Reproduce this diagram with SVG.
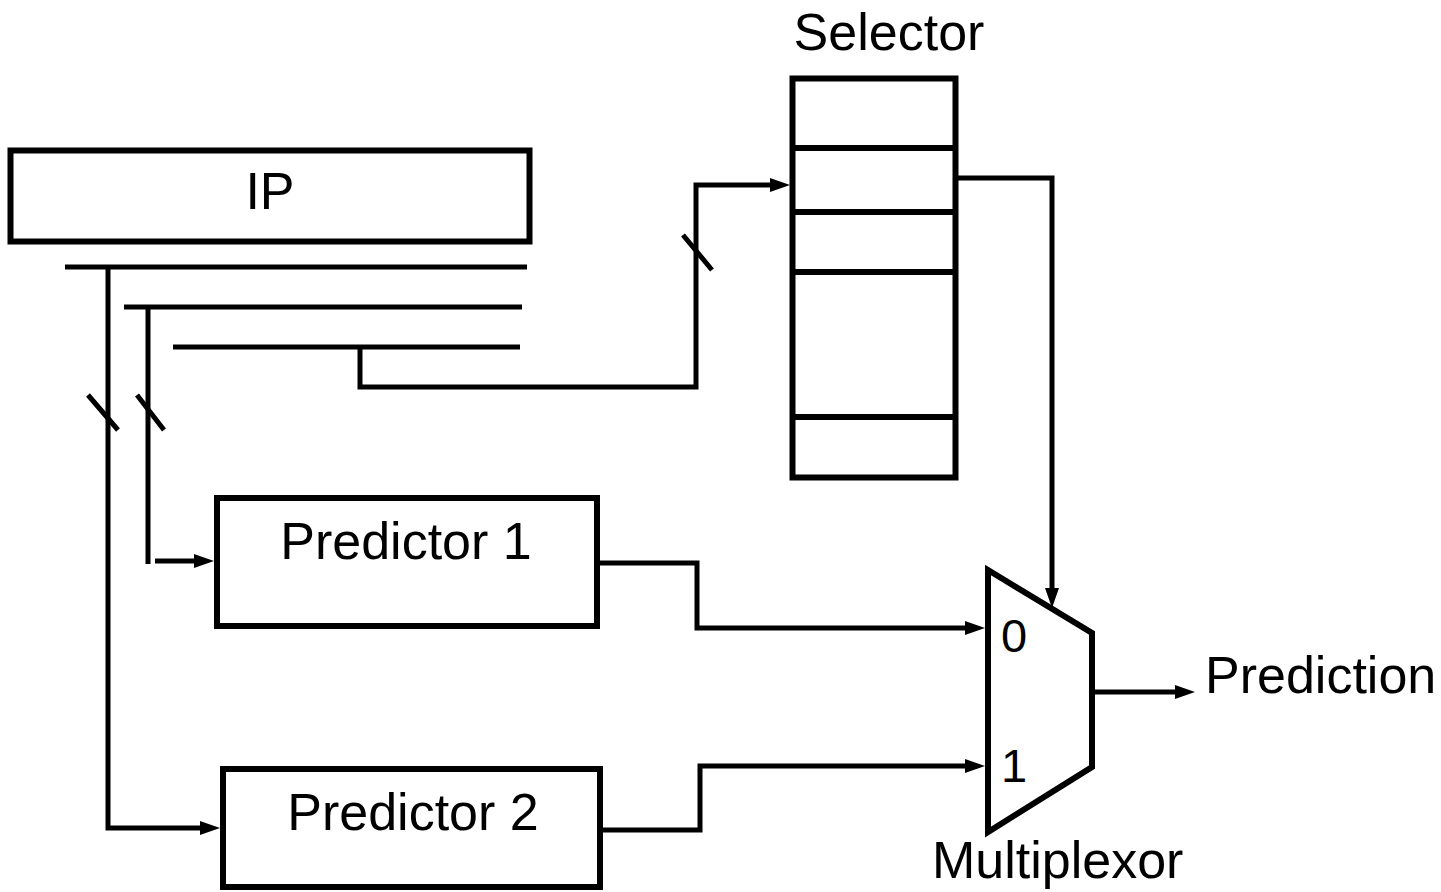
<svg xmlns="http://www.w3.org/2000/svg" width="1441" height="892" viewBox="0 0 1441 892">
  <style>
    .box { fill: #ffffff; stroke: #000000; stroke-width: 6; }
    .wire { fill: none; stroke: #000000; stroke-width: 5; }
    .label { font-family: "Liberation Sans", Arial, sans-serif; font-size: 52px; fill: #000000; }
    .port { font-family: "Liberation Sans", Arial, sans-serif; font-size: 47px; fill: #000000; }
  </style>
  <defs>
    <marker id="arrow" viewBox="0 -7 20 14" markerWidth="20" markerHeight="14" refX="0" refY="0" markerUnits="userSpaceOnUse" orient="auto">
      <path d="M0,-7 L20,0 L0,7 z" fill="#000000"/>
    </marker>
  </defs>
  <rect width="1441" height="892" fill="#ffffff"/>

  <!-- instruction pointer register with its bit fields -->
  <g id="ip">
    <rect class="box" x="10.5" y="150.5" width="519" height="91"/>
    <text class="label" x="270" y="209" text-anchor="middle">IP</text>
    <path class="wire" d="M65,267 H527 M124,307 H522 M173,347 H520"/>
  </g>

  <!-- selector table -->
  <g id="selector">
    <rect class="box" x="792.5" y="78.5" width="163" height="399"/>
    <path class="wire" d="M792,148 H955 M792,212 H955 M792,272 H955 M792,417 H955" style="stroke-width:6"/>
    <text class="label" x="889" y="50" text-anchor="middle">Selector</text>
  </g>

  <g id="predictor1">
    <rect class="box" x="217" y="498" width="380" height="128"/>
    <text class="label" x="406" y="559" text-anchor="middle">Predictor 1</text>
  </g>

  <g id="predictor2">
    <rect class="box" x="223" y="769" width="377" height="118"/>
    <text class="label" x="413" y="830" text-anchor="middle">Predictor 2</text>
  </g>

  <g id="multiplexor">
    <polygon class="box" points="988,570 1092,633 1092,767 988,832"/>
    <text class="port" x="1014" y="652" text-anchor="middle">0</text>
    <text class="port" x="1014" y="782" text-anchor="middle">1</text>
    <text class="label" x="932" y="878">Multiplexor</text>
  </g>

  <g id="output">
    <text class="label" x="1205" y="693">Prediction</text>
  </g>

  <!-- wires -->
  <g id="connectors">
    <path class="wire" d="M360,347 V387 H696 V185 H770" marker-end="url(#arrow)"/>
    <path class="wire" d="M958,178 H1052 V588" marker-end="url(#arrow)"/>
    <path class="wire" d="M600,563 H697 V628 H965" marker-end="url(#arrow)"/>
    <path class="wire" d="M603,830 H700 V766 H965" marker-end="url(#arrow)"/>
    <path class="wire" d="M1095,692 H1175" marker-end="url(#arrow)"/>
    <path class="wire" d="M148,307 V564"/>
    <path class="wire" d="M155,561 H194" marker-end="url(#arrow)"/>
    <path class="wire" d="M108,267 V828 H200" marker-end="url(#arrow)"/>
    <!-- bus width marks -->
    <path class="wire" d="M88,395 L118,430 M137,395 L164,430 M683,235 L712,270"/>
  </g>
</svg>
